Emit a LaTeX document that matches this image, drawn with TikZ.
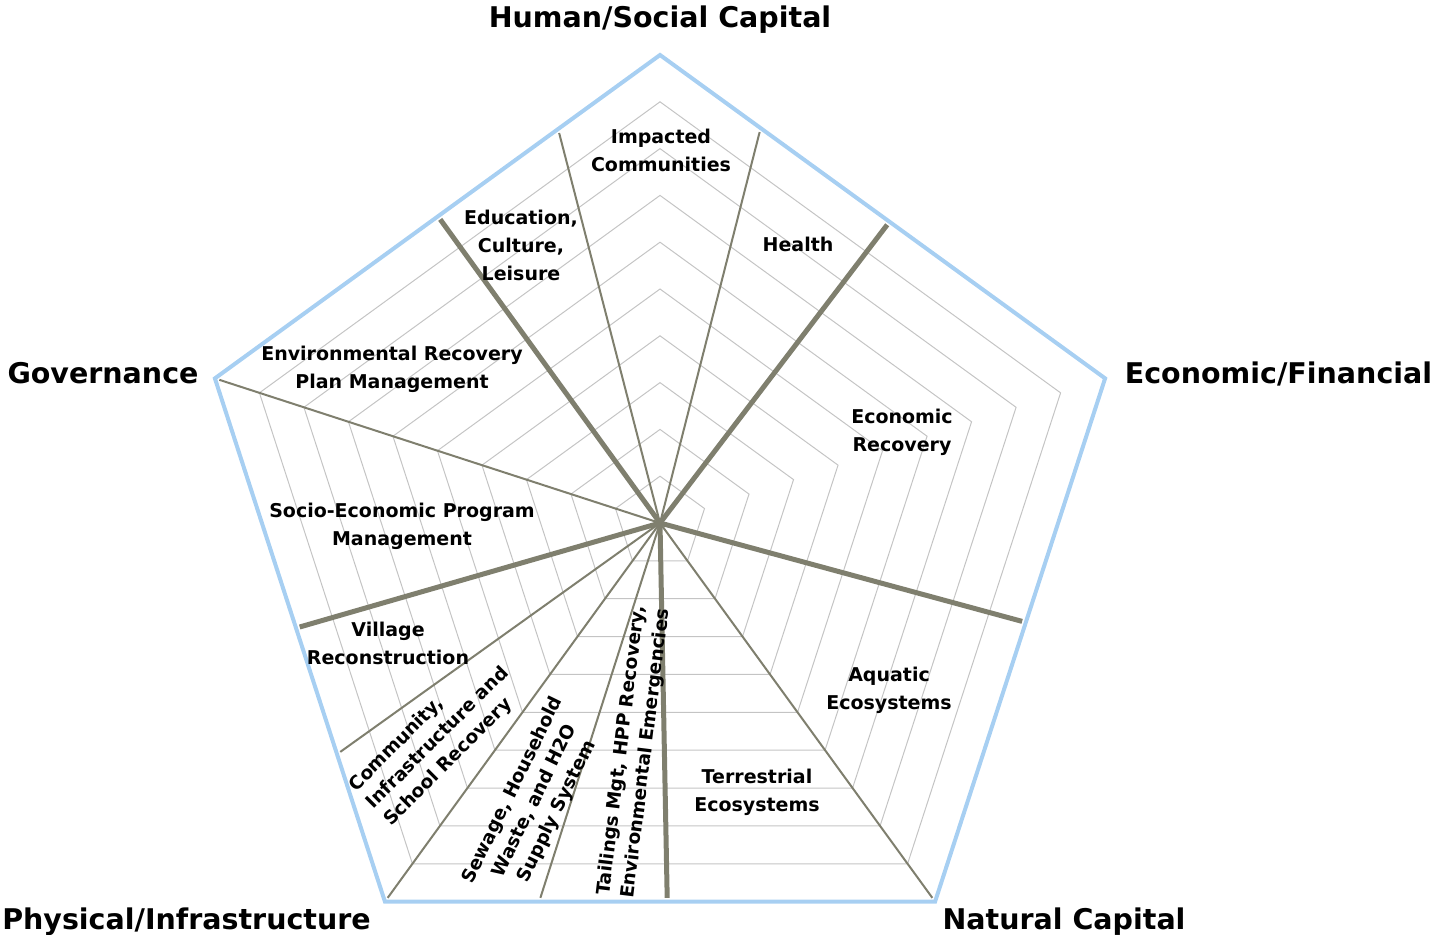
\documentclass[tikz,border=0pt]{standalone}
\usepackage{fontspec}
\setmainfont{DejaVu Sans}
\definecolor{gridgray}{HTML}{C4C4C4}
\definecolor{spokecol}{HTML}{7F7F6E}
\definecolor{borderblue}{HTML}{A7CFF2}
\begin{document}
\begin{tikzpicture}[x=1bp,y=-1bp,
  gridline/.style={draw=gridgray, line width=1bp, line join=miter},
  thinspoke/.style={draw=spokecol, line width=2bp},
  thickspoke/.style={draw=spokecol, line width=5bp},
  outline/.style={draw=borderblue, line width=4bp, line join=miter},
  lab/.style={font=\bfseries\fontsize{19bp}{28bp}\selectfont, align=center, inner sep=0pt},
  rotlab/.style={font=\bfseries\fontsize{18.5bp}{24.5bp}\selectfont, align=center, inner sep=0pt},
  cattitle/.style={font=\bfseries\fontsize{28.5bp}{34bp}\selectfont, inner sep=0pt, anchor=base}]
\useasboundingbox (0,0) rectangle (1434,934);
\coordinate (ctr) at (660,523);
% grid pentagons
\foreach \k in {1,...,9} {
  \pgfmathsetmacro\r{46.8*\k}
  \draw[gridline] ({660+\r*cos(90)},{523-\r*sin(90)}) -- ({660+\r*cos(18)},{523-\r*sin(18)})
    -- ({660+\r*cos(-54)},{523-\r*sin(-54)}) -- ({660+\r*cos(-126)},{523-\r*sin(-126)})
    -- ({660+\r*cos(162)},{523-\r*sin(162)}) -- cycle;
}
% spokes
\foreach \nm/\ang/\rr/\sty in {
  s1/125.9/378.6/thickspoke, s2/104.5/406.9/thinspoke, s3/75.7/407.5/thinspoke,
  s4/52.7/378.7/thickspoke, s5/-15.2/379.05/thickspoke, s6/-54/468/thinspoke,
  s7/-88.9/378.67/thickspoke, s8/-107.7/397.4/thinspoke, s9/-126/468/thinspoke,
  s10/-144.4/397.2/thinspoke, s11/196.1/378.8/thickspoke, s12/162/468/thinspoke} {
  \coordinate (\nm) at ({660+0.99*\rr*cos(\ang)},{523-0.99*\rr*sin(\ang)});
  \draw[\sty] (ctr) -- (\nm);
}
% outer pentagon
\coordinate (v0) at ({660+468*cos(90)},{523-468*sin(90)});
\coordinate (v1) at ({660+468*cos(18)},{523-468*sin(18)});
\coordinate (v2) at ({660+468*cos(-54)},{523-468*sin(-54)});
\coordinate (v3) at ({660+468*cos(-126)},{523-468*sin(-126)});
\coordinate (v4) at ({660+468*cos(162)},{523-468*sin(162)});
\draw[outline] (v0) -- (v1) -- (v2) -- (v3) -- (v4) -- cycle;
% category titles
\node[cattitle] (hs) at (660,27) {Human/Social Capital};
\node[cattitle] (ef) at (1278.5,383) {Economic/Financial};
\node[cattitle] (gov) at (103,383) {Governance};
\node[cattitle] (pin) at (186.5,929) {Physical/Infrastructure};
\node[cattitle] (nat) at (1064,929) {Natural Capital};
% sub labels
\node[lab] (l1) at (661,150.5) {Impacted\\Communities};
\node[lab] (l2) at (521,245.5) {Education,\\Culture,\\Leisure};
\node[lab] (l3) at (798,244.5) {Health};
\node[lab] (l4) at (392,369) {Environmental Recovery\\Plan Management};
\node[lab] (l5) at (902,432) {Economic\\Recovery};
\node[lab] (l6) at (402,526) {Socio-Economic Program\\Management};
\node[lab] (l7) at (388,643.5) {Village\\Reconstruction};
\node[lab] (l8) at (889,690) {Aquatic\\Ecosystems};
\node[lab] (l9) at (757,792) {Terrestrial\\Ecosystems};
\node[rotlab, align=left, rotate=45] (l10) at (438,738) {Community,\\Infrastructure and\\School Recovery};
\node[rotlab, rotate=64] (l11) at (535,801) {Sewage, Household\\Waste, and H2O\\Supply System};
\node[rotlab, rotate=83] (l12) at (634,752) {Tailings Mgt, HPP Recovery,\\Environmental Emergencies};
\end{tikzpicture}
\end{document}
